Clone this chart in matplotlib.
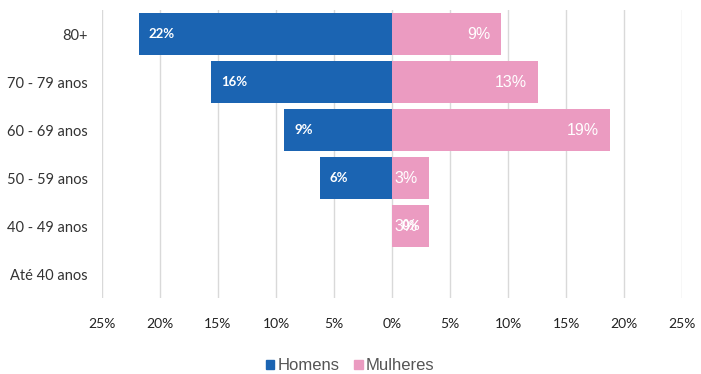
import numpy as np
import matplotlib.pyplot as plt
from matplotlib.patches import Patch

plt.rcParams['font.family'] = ['Lato', 'DejaVu Sans']

faixas   = ['80+', '70 - 79 anos', '60 - 69 anos', '50 - 59 anos', '40 - 49 anos', 'Até 40 anos']
homens   = [21.8, 15.6, 9.3, 6.2, 0.0, None]
mulheres = [9.4, 12.6, 18.8, 3.2, 3.2, None]
xticks   = [-25, -20, -15, -10, -5, 0, 5, 10, 15, 20, 25]

cor_h = '#1b64b2'
cor_m = '#eb9bc1'

fig = plt.figure(figsize=(7.01, 3.74), dpi=100)
ax = fig.add_axes([0.1455, 0.203, 0.8275, 0.77])

y = np.arange(len(faixas))
h = [v if v is not None else 0 for v in homens]
m = [v if v is not None else 0 for v in mulheres]

ax.barh(y, [-v for v in h], height=0.87, color=cor_h, zorder=3)
ax.barh(y, m, height=0.87, color=cor_m, zorder=3)

for i in range(len(faixas)):
    if homens[i] is not None:
        ax.text(-homens[i] + 0.85, y[i], '%d%%' % round(homens[i]), color='white',
                fontsize=9.5, fontweight='bold', va='center', ha='left', zorder=4)
    if mulheres[i] is not None:
        ax.text(mulheres[i] - 0.95, y[i], '%d%%' % round(mulheres[i]), color='white',
                fontsize=11.5, family=['Liberation Sans'], va='center', ha='right', zorder=4)

ax.set_xlim(-25, 25)
ax.set_ylim(len(faixas) - 0.5, -0.5)
ax.set_xticks(xticks)
ax.set_xticklabels(['%d%%' % abs(t) for t in xticks], fontsize=10, color='#222222')
ax.set_yticks(y)
ax.set_yticklabels(faixas, fontsize=10.5, color='#333333')
ax.tick_params(axis='both', length=0)
ax.tick_params(axis='y', pad=10)
ax.tick_params(axis='x', pad=14)
ax.grid(axis='x', color='#d9d9d9', linewidth=1, zorder=0)
for s in ax.spines.values():
    s.set_visible(False)

handles = [Patch(color=cor_h, label='Homens'), Patch(color=cor_m, label='Mulheres')]
fig.legend(handles=handles, loc='center', bbox_to_anchor=(350 / 701, 0.022), ncol=2,
           frameon=False, prop={'family': 'Liberation Sans', 'size': 12},
           handlelength=0.5, handleheight=0.5, handletextpad=0.2, columnspacing=0.9,
           labelcolor='#555555')

fig.savefig('out.png', dpi=100, facecolor='white')
